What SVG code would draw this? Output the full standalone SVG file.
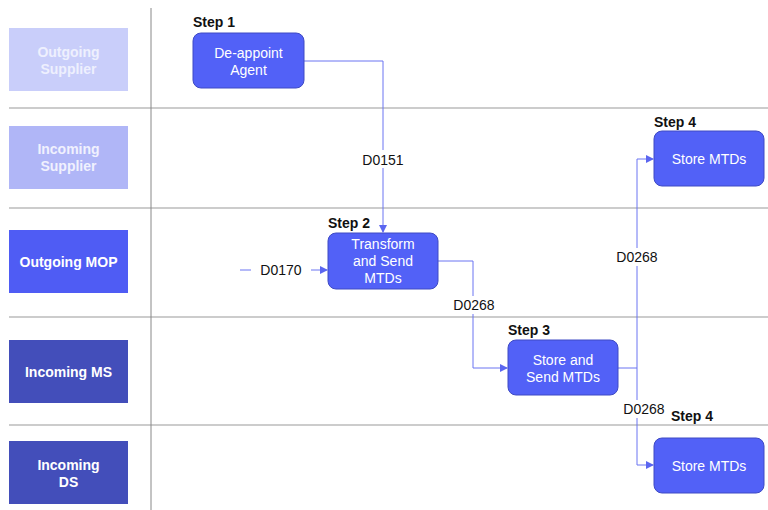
<svg xmlns="http://www.w3.org/2000/svg" width="768" height="510" viewBox="0 0 768 510">
<defs>
<marker id="arr" markerWidth="8" markerHeight="8" refX="7" refY="4" orient="auto" markerUnits="userSpaceOnUse">
<path d="M0,0 L8,4 L0,8 z" fill="#5B66F0"/>
</marker>
<style>
.lane{font-family:"Liberation Sans",Arial,sans-serif;font-size:14px;font-weight:bold;text-anchor:middle}
.node rect{fill:#5261F7;stroke:#3E4AC4;stroke-width:1}
.node text{font-family:"Liberation Sans",Arial,sans-serif;font-size:14px;fill:#fff;text-anchor:middle}
.step{font-family:"Liberation Sans",Arial,sans-serif;font-size:13.5px;font-weight:bold;fill:#111}
.sep{stroke:#bbb;stroke-width:1.5}
.conn path,.conn line{fill:none;stroke:#6A74F2;stroke-width:1}
.lbl{font-family:"Liberation Sans",Arial,sans-serif;font-size:14px;fill:#111;text-anchor:middle}
.bg{fill:#fff}
</style>
</defs>
<rect width="768" height="510" fill="#fff"/>
<g id="grid">
<line class="sep" x1="9" y1="108" x2="768" y2="108"/>
<line class="sep" x1="9" y1="208" x2="768" y2="208"/>
<line class="sep" x1="9" y1="317" x2="768" y2="317"/>
<line class="sep" x1="9" y1="425" x2="768" y2="425"/>
<line x1="151" y1="8" x2="151" y2="510" stroke="#888" stroke-width="1"/>
</g>
<g id="lane-outgoing-supplier"><rect x="9" y="28" width="119" height="63" fill="#C9CEFA"/><text class="lane" fill="#EEF0FE" x="68.5" y="57">Outgoing</text><text class="lane" fill="#EEF0FE" x="68.5" y="74">Supplier</text></g>
<g id="lane-incoming-supplier"><rect x="9" y="126" width="119" height="63" fill="#B0B6F7"/><text class="lane" fill="#F0F1FE" x="68.5" y="154">Incoming</text><text class="lane" fill="#F0F1FE" x="68.5" y="171">Supplier</text></g>
<g id="lane-outgoing-mop"><rect x="9" y="230" width="119" height="63" fill="#4F5CF4"/><text class="lane" fill="#fff" x="68.5" y="267">Outgoing MOP</text></g>
<g id="lane-incoming-ms"><rect x="9" y="340" width="119" height="63" fill="#434EBA"/><text class="lane" fill="#fff" x="68.5" y="377">Incoming MS</text></g>
<g id="lane-incoming-ds"><rect x="9" y="441" width="119" height="63" fill="#434EBA"/><text class="lane" fill="#fff" x="68.5" y="470">Incoming</text><text class="lane" fill="#fff" x="68.5" y="487">DS</text></g>
<g class="conn" id="connectors">
<path d="M304,61 H383 V232" marker-end="url(#arr)"/>
<rect class="bg" x="357" y="150" width="52" height="18"/>
<text class="lbl" x="383" y="165">D0151</text>
<line x1="240" y1="270" x2="251" y2="270"/>
<text class="lbl" x="281" y="275">D0170</text>
<line x1="311" y1="270" x2="327" y2="270" marker-end="url(#arr)"/>
<path d="M438,261 H473 V368 H507" marker-end="url(#arr)"/>
<rect class="bg" x="448" y="296" width="52" height="18"/>
<text class="lbl" x="474" y="310">D0268</text>
<path d="M618,368 H637 V159 H653" marker-end="url(#arr)"/>
<path d="M637,368 V465 H653" marker-end="url(#arr)"/>
<rect class="bg" x="611" y="248" width="52" height="18"/>
<text class="lbl" x="637" y="262">D0268</text>
<rect class="bg" x="618" y="400" width="52" height="18"/>
<text class="lbl" x="644" y="414">D0268</text>
</g>
<g class="node" id="step1"><text class="step" x="193" y="27" style="fill:#111;text-anchor:start">Step 1</text><rect x="193" y="33" width="111" height="55" rx="8"/><text x="248.5" y="58">De-appoint</text><text x="248.5" y="75">Agent</text></g>
<g class="node" id="step2"><text class="step" x="328" y="228" style="fill:#111;text-anchor:start">Step 2</text><rect x="328" y="233" width="110" height="56" rx="8"/><text x="383" y="249">Transform</text><text x="383" y="266">and Send</text><text x="383" y="283">MTDs</text></g>
<g class="node" id="step3"><text class="step" x="508" y="335" style="fill:#111;text-anchor:start">Step 3</text><rect x="508" y="340" width="110" height="55" rx="8"/><text x="563" y="365">Store and</text><text x="563" y="382">Send MTDs</text></g>
<g class="node" id="step4a"><text class="step" x="654" y="127" style="fill:#111;text-anchor:start">Step 4</text><rect x="654" y="131" width="110" height="55" rx="8"/><text x="709" y="164">Store MTDs</text></g>
<g class="node" id="step4b"><text class="step" x="671" y="421" style="fill:#111;text-anchor:start">Step 4</text><rect x="654" y="438" width="110" height="55" rx="8"/><text x="709" y="471">Store MTDs</text></g>
</svg>
